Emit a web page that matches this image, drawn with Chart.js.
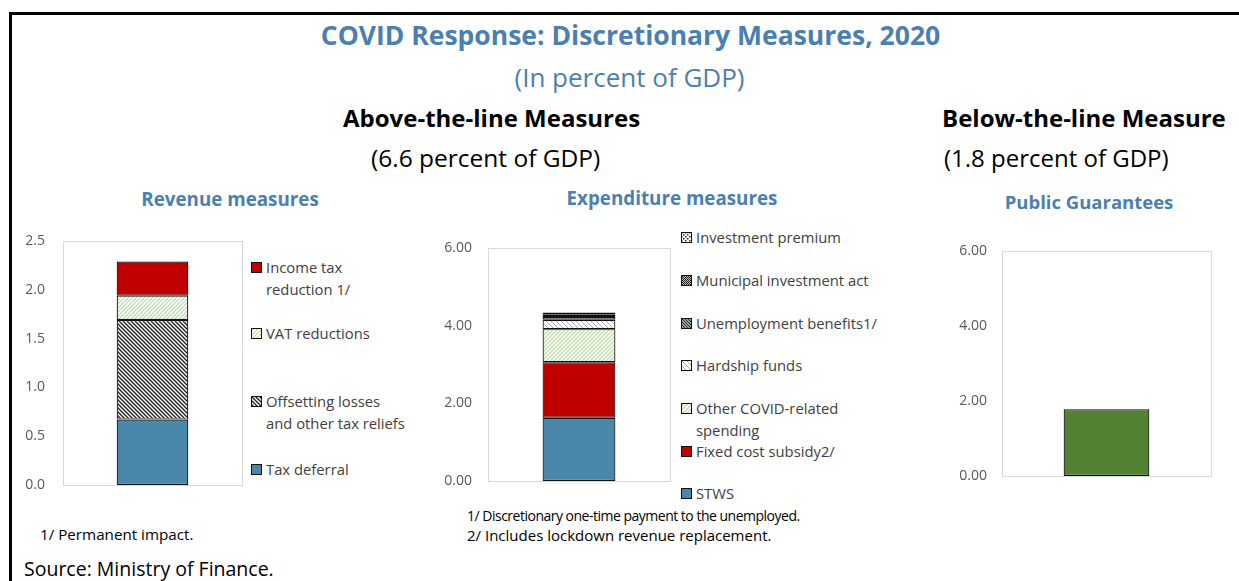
<!DOCTYPE html>
<html>
<head>
<meta charset="utf-8">
<script src="https://cdn.jsdelivr.net/npm/chart.js@4"></script>
<style>
  body { margin: 0; width: 1239px; height: 581px; position: relative; overflow: hidden; background: #fff; font-family: "Open Sans", "Noto Sans", sans-serif; }
  .frame-top { position: absolute; left: 9px; top: 12px; width: 1230px; height: 3px; background: #000; }
  .frame-left { position: absolute; left: 9px; top: 12px; width: 3px; height: 569px; background: #000; }
  .txt { position: absolute; white-space: nowrap; }
  .blue { color: #4a7fb0; }
  canvas { position: absolute; }
  .legend { position: absolute; font-size: 14.8px; color: #404040; line-height: 22px; }
  .legend canvas { position: absolute; left: 0; top: 6px; }
  .legend span { display: block; margin-left: 15px; }
</style>
</head>
<body>
<div class="frame-top"></div>
<div class="frame-left"></div>

<div class="txt blue" style="left:0;width:1261px;text-align:center;top:17px;font-size:26.5px;font-weight:bold;">COVID Response: Discretionary Measures, 2020</div>
<div class="txt blue" style="left:0;width:1259px;text-align:center;top:59px;font-size:26px;">(In percent of GDP)</div>
<div class="txt" style="left:343px;top:101px;font-size:24px;font-weight:bold;">Above-the-line Measures</div>
<div class="txt" style="left:371px;top:141px;font-size:24.5px;">(6.6 percent of GDP)</div>
<div class="txt" style="left:942px;top:101px;font-size:24px;font-weight:bold;">Below-the-line Measure</div>
<div class="txt" style="left:944px;top:141px;font-size:24px;">(1.8 percent of GDP)</div>

<div class="txt blue" style="left:130px;width:200px;text-align:center;top:186px;font-size:18.8px;font-weight:bold;">Revenue measures</div>
<div class="txt blue" style="left:552px;width:240px;text-align:center;top:185px;font-size:18.8px;font-weight:bold;">Expenditure measures</div>
<div class="txt blue" style="left:989px;width:200px;text-align:center;top:189px;font-size:18.5px;font-weight:bold;">Public Guarantees</div>

<canvas id="revenueChart" width="225" height="265" style="left:20px;top:230px;"></canvas>
<canvas id="expenditureChart" width="232" height="255" style="left:440px;top:235px;"></canvas>
<canvas id="guaranteeChart" width="265" height="248" style="left:950px;top:238px;"></canvas>

<div id="revenueLegend"></div>
<div id="expenditureLegend"></div>

<div class="txt" style="left:40px;top:524px;font-size:15.2px;color:#000;">1/ Permanent impact.</div>
<div class="txt" style="left:467px;top:506px;font-size:14px;letter-spacing:-0.5px;color:#000;">1/ Discretionary one-time payment to the unemployed.</div>
<div class="txt" style="left:467px;top:525px;font-size:15px;color:#000;">2/ Includes lockdown revenue replacement.</div>
<div class="txt" style="left:24px;top:555px;font-size:19.5px;color:#000;">Source: Ministry of Finance.</div>

<script>
// Data (stack order: bottom to top)
const revenueLabels = ['Tax deferral', 'Offsetting losses and other tax reliefs', 'VAT reductions', 'Income tax reduction 1/'];
const revenueValues = [0.67, 1.02, 0.25, 0.35];

const expenditureLabels = ['STWS', 'Fixed cost subsidy2/', 'Other COVID-related spending', 'Hardship funds',
    'Unemployment benefits1/', 'Municipal investment act', 'Investment premium'];
const expenditureValues = [1.63, 1.43, 0.85, 0.24, 0.07, 0.06, 0.06];

const guaranteeLabels = ['Public Guarantees'];
const guaranteeValues = [1.78];

const revenueTicks = [0, 0.5, 1.0, 1.5, 2.0, 2.5];
const expenditureTicks = [0, 2, 4, 6];
const guaranteeTicks = [0, 2, 4, 6];

// Legend text lines (wrapped like the original) and their layout
const revenueLegendText = [['Tax deferral'], ['Offsetting losses', 'and other tax reliefs'], ['VAT reductions'], ['Income tax', 'reduction 1/']];
const revenueLegendTop = [458, 390, 322, 256];
const expenditureLegendText = [['STWS'], ['Fixed cost subsidy2/'], ['Other COVID-related', 'spending'], ['Hardship funds'],
    ['Unemployment benefits1/'], ['Municipal investment act'], ['Investment premium']];
const expenditureLegendTop = [482, 440, 397, 354, 312, 269, 226];

// Hatch patterns
function makePattern(kind) {
    const c = document.createElement('canvas');
    const ctx = c.getContext('2d');
    let s = 5;
    if (kind === 'solidRed') return '#c00000';
    if (kind === 'solidBlue') return '#4a88ab';
    if (kind === 'greenUp') {
        s = 4;
        c.width = s; c.height = s;
        ctx.fillStyle = '#fff'; ctx.fillRect(0, 0, s, s);
        ctx.strokeStyle = '#b4d69c'; ctx.lineWidth = 1.1;
        upLines(ctx, s);
    } else if (kind === 'blackDown') {
        s = 4;
        c.width = s; c.height = s;
        ctx.fillStyle = '#fff'; ctx.fillRect(0, 0, s, s);
        ctx.strokeStyle = '#222'; ctx.lineWidth = 1.4;
        downLines(ctx, s);
    } else if (kind === 'grayDown') {
        s = 5;
        c.width = s; c.height = s;
        ctx.fillStyle = '#fff'; ctx.fillRect(0, 0, s, s);
        ctx.strokeStyle = '#aaa'; ctx.lineWidth = 1;
        downLines(ctx, s);
    } else if (kind === 'darkDown') {
        s = 3;
        c.width = s; c.height = s;
        ctx.fillStyle = '#fff'; ctx.fillRect(0, 0, s, s);
        ctx.strokeStyle = '#333'; ctx.lineWidth = 1.4;
        downLines(ctx, s);
    } else if (kind === 'checker') {
        s = 2;
        c.width = s; c.height = s;
        ctx.fillStyle = '#bbb'; ctx.fillRect(0, 0, s, s);
        ctx.fillStyle = '#222'; ctx.fillRect(0, 0, 1, 1); ctx.fillRect(1, 1, 1, 1);
    } else if (kind === 'dots') {
        s = 4;
        c.width = s; c.height = s;
        ctx.fillStyle = '#fff'; ctx.fillRect(0, 0, s, s);
        ctx.fillStyle = '#333'; ctx.fillRect(0, 0, 1.5, 1.5); ctx.fillRect(2, 2, 1.5, 1.5);
    }
    return ctx.createPattern(c, 'repeat');
}

function upLines(ctx, s) {
    ctx.beginPath();
    ctx.moveTo(0, s); ctx.lineTo(s, 0);
    ctx.moveTo(-1, 1); ctx.lineTo(1, -1);
    ctx.moveTo(s - 1, s + 1); ctx.lineTo(s + 1, s - 1);
    ctx.stroke();
}

function downLines(ctx, s) {
    ctx.beginPath();
    ctx.moveTo(0, 0); ctx.lineTo(s, s);
    ctx.moveTo(-1, s - 1); ctx.lineTo(1, s + 1);
    ctx.moveTo(s - 1, -1); ctx.lineTo(s + 1, 1);
    ctx.stroke();
}

const revenueFills = ['solidBlue', 'blackDown', 'greenUp', 'solidRed'].map(makePattern);
const expenditureFills = ['solidBlue', 'solidRed', 'greenUp', 'grayDown', 'darkDown', 'checker', 'dots'].map(makePattern);
const guaranteeFills = ['#548235'];

// Light grey box around the plot area
const plotBox = {
    id: 'plotBox',
    beforeDatasetsDraw(chart) {
        const a = chart.chartArea;
        const ctx = chart.ctx;
        ctx.save();
        ctx.strokeStyle = '#d9d9d9';
        ctx.lineWidth = 1;
        ctx.strokeRect(Math.round(a.left) + 0.5, Math.round(a.top) + 0.5, Math.round(a.right - a.left), Math.round(a.bottom - a.top));
        ctx.restore();
    }
};

function makeStack(id, labels, values, fills, ticks, decimals, opts) {
    const datasets = labels.map((lab, i) => ({
        label: lab,
        data: [values[i]],
        backgroundColor: fills[i],
        borderColor: '#111',
        borderWidth: 1.2,
        borderSkipped: false,
        barPercentage: opts.bar,
        categoryPercentage: 1
    }));
    return new Chart(document.getElementById(id), {
        type: 'bar',
        data: { labels: [''], datasets: datasets },
        options: {
            responsive: false,
            animation: false,
            devicePixelRatio: 1,
            layout: { padding: opts.padding },
            plugins: { legend: { display: false }, tooltip: { enabled: false } },
            scales: {
                x: { stacked: true, display: false },
                y: {
                    stacked: true,
                    min: ticks[0],
                    max: ticks[ticks.length - 1],
                    afterBuildTicks: function(axis) {
                        axis.ticks = ticks.map(v => ({ value: v }));
                    },
                    afterFit: function(axis) {
                        axis.width = opts.axisWidth;
                        axis.paddingTop = 0;
                        axis.paddingBottom = 0;
                    },
                    grid: { display: false, drawTicks: false, tickLength: 0 },
                    border: { display: false },
                    ticks: {
                        padding: opts.tickPad,
                        color: '#595959',
                        font: { family: 'Open Sans', size: 14 },
                        callback: function(value) { return Number(value).toFixed(decimals); }
                    }
                }
            }
        },
        plugins: [plotBox]
    });
}

makeStack('revenueChart', revenueLabels, revenueValues, revenueFills, revenueTicks, 1,
    { bar: 0.40, padding: { top: 11, bottom: 10, right: 3, left: 0 }, axisWidth: 43, tickPad: 18 });
makeStack('expenditureChart', expenditureLabels, expenditureValues, expenditureFills, expenditureTicks, 2,
    { bar: 0.40, padding: { top: 13, bottom: 9, right: 2, left: 0 }, axisWidth: 48, tickPad: 16 });
makeStack('guaranteeChart', guaranteeLabels, guaranteeValues, guaranteeFills, guaranteeTicks, 2,
    { bar: 0.41, padding: { top: 13, bottom: 10, right: 4, left: 0 }, axisWidth: 52, tickPad: 15 });

// HTML legends with pattern swatches
function buildLegend(holderId, left, texts, tops, fills) {
    const holder = document.getElementById(holderId);
    texts.forEach((lines, i) => {
        const item = document.createElement('div');
        item.className = 'legend';
        item.style.left = left + 'px';
        item.style.top = tops[i] + 'px';
        const sw = document.createElement('canvas');
        sw.width = 11; sw.height = 11;
        const sctx = sw.getContext('2d');
        sctx.fillStyle = fills[i];
        sctx.fillRect(0, 0, 11, 11);
        sctx.strokeStyle = '#111';
        sctx.lineWidth = 1;
        sctx.strokeRect(0.5, 0.5, 10, 10);
        item.appendChild(sw);
        lines.forEach(t => {
            const sp = document.createElement('span');
            sp.textContent = t;
            item.appendChild(sp);
        });
        holder.appendChild(item);
    });
}

buildLegend('revenueLegend', 251, revenueLegendText, revenueLegendTop, revenueFills);
buildLegend('expenditureLegend', 681, expenditureLegendText, expenditureLegendTop, expenditureFills);
</script>
</body>
</html>
